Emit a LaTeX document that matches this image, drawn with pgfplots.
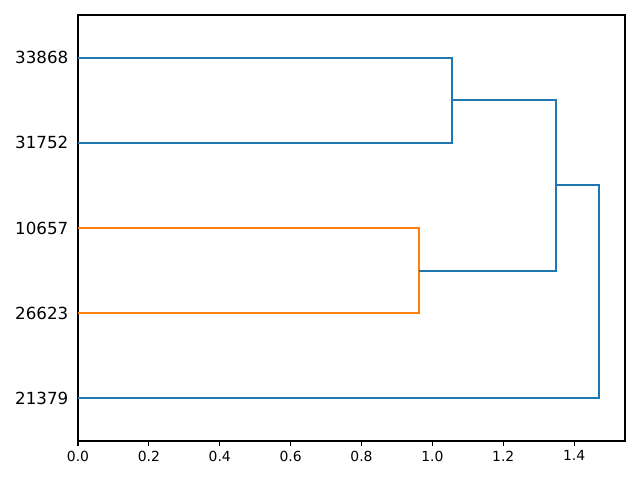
\documentclass[border=0pt]{standalone}
\usepackage{fontspec}
\setmainfont{DejaVu Sans}
\usepackage{pgfplots}
\pgfplotsset{compat=1.18}
\definecolor{c0}{HTML}{1F77B4}
\definecolor{c1}{HTML}{FF7F0E}
\begin{document}
\begin{tikzpicture}
\begin{axis}[
  at={(0,0)}, anchor=south west,
  scale only axis, width=393.8pt, height=306.7pt,
  xmin=0, xmax=1.5435, ymin=0, ymax=50,
  xtick={0,0.2,...,1.4},
  xticklabel style={font=\fontsize{10}{12}\selectfont},
  /pgf/number format/.cd, fixed, fixed zerofill, precision=1, assume math mode=true,
  /pgfplots/.cd,
  ytick={5,15,25,35,45},
  yticklabels={21379,26623,10657,31752,33868},
  yticklabel style={font=\fontsize{12}{14}\selectfont},
  major y tick style={draw=none},
  tick align=outside, xtick pos=bottom, ytick pos=left,
  major tick length=3.5pt,
  tick style={black, line width=0.8pt},
  axis line style={line width=0.8pt},
  every axis plot/.append style={line width=1.4pt},
]
\addplot[c1] coordinates {(0,25) (0.962,25) (0.962,15) (0,15)};
\addplot[c0] coordinates {(0,45) (1.056,45) (1.056,35) (0,35)};
\addplot[c0] coordinates {(1.056,40) (1.349,40) (1.349,20) (0.962,20)};
\addplot[c0] coordinates {(1.349,30) (1.470,30) (1.470,5) (0,5)};
\end{axis}
\useasboundingbox (-56.16pt,-28.08pt) rectangle (404.6pt,317.5pt);
\end{tikzpicture}
\end{document}
